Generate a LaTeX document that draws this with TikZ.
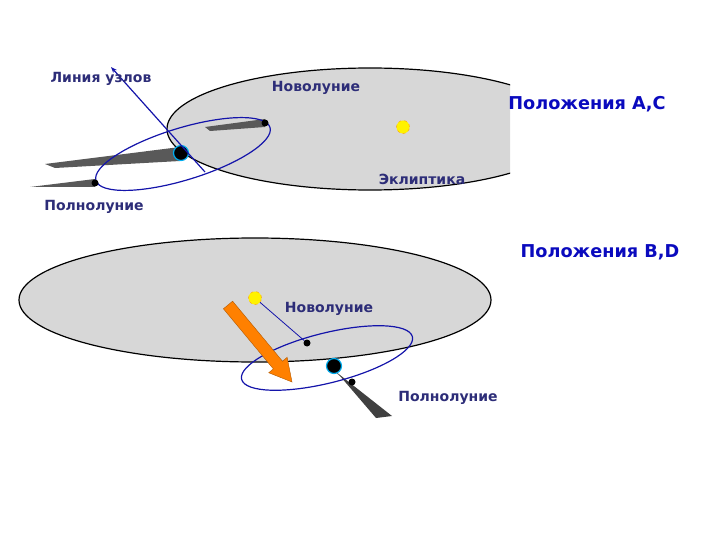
\documentclass[tikz,border=0pt]{standalone}
\usepackage{fontspec}
\setmainfont{DejaVu Sans}
\usetikzlibrary{arrows.meta,calc}
\definecolor{lab}{RGB}{45,45,120}
\definecolor{big}{RGB}{10,10,190}
\definecolor{orb}{RGB}{20,20,170}
\definecolor{pl}{RGB}{215,215,215}
\tikzset{small/.style={font=\bfseries\fontsize{14}{16}\selectfont,text=lab},
 large/.style={font=\bfseries\fontsize{17.7}{20}\selectfont,text=big},
 orbit/.style={draw=orb,line width=1.2pt},
 moon/.style={circle,fill=black,inner sep=0pt,minimum size=7pt},
 earth/.style={circle,fill=black,draw=cyan,line width=1.2pt,inner sep=0pt,minimum size=15pt},
 sun/.style={circle,fill=yellow,draw=orange!80!yellow,dashed,inner sep=0pt,minimum size=13pt}}
\begin{document}
\begin{tikzpicture}[x=1pt,y=-1pt]
\useasboundingbox (0,0) rectangle (720,540);
% top plane
\begin{scope}
\clip (0,0) rectangle (510,200);
\draw[fill=pl,line width=1.2pt] (370,129) ellipse [x radius=203,y radius=61];
\end{scope}
\node[sun] (sun1) at (403,127) {};
% shadows top
\fill[gray!70!black] (180,147) -- (45,164) -- (55,168) -- (180,161) -- cycle;
\fill[gray!70!black] (265,119) -- (205,127) -- (210,131) -- (265,127) -- cycle;
\fill[gray!70!black] (95,179) -- (30,187) -- (95,187) -- cycle;
\draw[orbit,rotate around={17:(183,154)}] (183,154) ellipse [x radius=91,y radius=26];
\node[moon] (nm1) at (265,123) {};
\node[moon] (fm1) at (95,183) {};
\node[earth] (e1) at (181,153) {};
\coordinate (ln) at (111,67);
\coordinate (ln2) at (205,172);
\draw[orbit,-{Stealth[length=6pt,open]}] (ln2) -- (ln);
\node[small] (t1) at (101,79) {Линия узлов};
\node[small] (t2) at (316,88) {Новолуние};
\node[large] (t3) at (587,104) {Положения А,С};
\node[small] (t4) at (422,179) {Эклиптика};
\node[small] (t5) at (94,207) {Полнолуние};
% bottom plane
\draw[fill=pl,line width=1.2pt] (255,300) ellipse [x radius=236,y radius=62];
\node[large] (t6) at (600,252) {Положения B,D};
\node[sun] (sun2) at (255,298) {};
\fill[gray!50!black] (326,364) -- (392,416) -- (376,418) -- (340,376) -- cycle;
\draw[orbit,rotate around={14:(327,358)}] (327,358) ellipse [x radius=88,y radius=25];
\node[moon] (nm2) at (307,343) {};
\node[moon] (fm2) at (352,382) {};
\node[earth] (e2) at (334,366) {};
\draw[orbit,line width=0.8pt] (sun2) -- (nm2);
\coordinate (a1) at (228,305);
\coordinate (a2) at (292,382);
\coordinate (ab) at ($(a1)!0.78!(a2)$);
\draw[draw=orange!70!black,fill=orange,line width=0.4pt] ($(a1)+(-4.6,3.8)$) -- ($(ab)+(-4.6,3.8)$) -- ($(ab)+(-9.2,7.7)$) -- (a2) -- ($(ab)+(9.2,-7.7)$) -- ($(ab)+(4.6,-3.8)$) -- ($(a1)+(4.6,-3.8)$) -- cycle;
\node[small] (t7) at (329,309) {Новолуние};
\node[small] (t8) at (448,398) {Полнолуние};
\end{tikzpicture}
\end{document}
